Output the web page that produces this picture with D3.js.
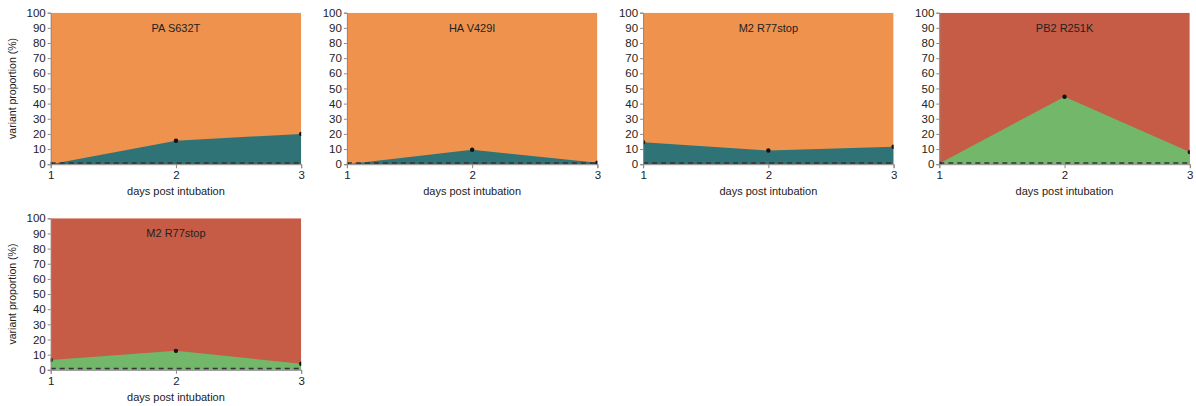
<!DOCTYPE html>
<html>
<head>
<meta charset="utf-8">
<script src="https://cdn.jsdelivr.net/npm/d3@7"></script>
<style>
body { margin: 0; background: #fff; }
text { font-family: "Liberation Sans", Arial, sans-serif; }
</style>
</head>
<body>
<div class="container"></div>
<script>
// one array per panel: variant proportion (%) at day 1, 2, 3
var days = [1, 2, 3];
var titles = ['PA S632T', 'HA V429I', 'M2 R77stop', 'PB2 R251K', 'M2 R77stop'];
var paS632T = [0, 15.5, 20];
var haV429I = [0, 9.5, 1];
var m2R77stopA = [14.5, 9, 11.5];
var pb2R251K = [0.5, 44.5, 8];
var m2R77stopB = [6.5, 12.5, 4];
var yTicks = [0, 10, 20, 30, 40, 50, 60, 70, 80, 90, 100];
var threshold = 0.8;

const WIDTH = 1196;
const HEIGHT = 406;
const PLOT_W = 250.5;
const PLOT_H = 151.5;

var panels = [
	{ values: paS632T,    low: '#2f7377', high: '#ef924d' },
	{ values: haV429I,    low: '#2f7377', high: '#ef924d' },
	{ values: m2R77stopA, low: '#2f7377', high: '#ef924d' },
	{ values: pb2R251K,   low: '#72b76a', high: '#c65c45' },
	{ values: m2R77stopB, low: '#72b76a', high: '#c65c45' }
];

var svg = d3.select('.container').append('svg')
	.attr('width', WIDTH)
	.attr('height', HEIGHT);

var xScale = d3.scaleLinear().domain([1, 3]).range([0, PLOT_W]);
var yScale = d3.scaleLinear().domain([0, 100]).range([PLOT_H, 0]);

var drawPanel = function(p, i) {
	var col = i % 4;
	var row = Math.floor(i / 4);
	var left = 50.7 + col * 296.2;
	var top = 12.7 + row * 205.6;

	var g = svg.append('g')
		.attr('transform', 'translate(' + left + ',' + top + ')');

	g.append('clipPath').attr('id', 'clip' + i)
		.append('rect').attr('width', PLOT_W).attr('height', PLOT_H);

	var plot = g.append('g').attr('clip-path', 'url(#clip' + i + ')');

	var data = days.map(function(d, k) { return { day: d, v: p.values[k] }; });

	// the remaining share fills the whole plot, the variant area is laid over it
	var upper = d3.area()
		.x(function(d) { return xScale(d.day); })
		.y0(yScale(0))
		.y1(yScale(100));
	var lower = d3.area()
		.x(function(d) { return xScale(d.day); })
		.y0(yScale(0))
		.y1(function(d) { return yScale(d.v); });

	plot.append('path').datum(data).attr('d', upper).attr('fill', p.high);
	plot.append('path').datum(data).attr('d', lower).attr('fill', p.low);

	plot.append('line')
		.attr('x1', xScale(1)).attr('x2', xScale(3))
		.attr('y1', yScale(threshold)).attr('y2', yScale(threshold))
		.attr('stroke', '#333')
		.attr('stroke-width', 1.6)
		.attr('stroke-dasharray', '5,4');

	plot.selectAll('circle').data(data).enter().append('circle')
		.attr('cx', function(d) { return xScale(d.day); })
		.attr('cy', function(d) { return yScale(d.v); })
		.attr('r', 2.2)
		.attr('fill', '#111');

	var yAxis = d3.axisLeft(yScale).tickValues(yTicks).tickSize(3).tickPadding(2);
	var ya = g.append('g').call(yAxis);
	var xAxis = d3.axisBottom(xScale).tickValues(days).tickFormat(d3.format('d')).tickSize(4).tickPadding(3);
	var xa = g.append('g').attr('transform', 'translate(0,' + PLOT_H + ')').call(xAxis);

	[ya, xa].forEach(function(a) {
		a.select('.domain').attr('stroke', '#8a8a8a').attr('stroke-width', 1);
		a.selectAll('.tick line').attr('stroke', '#8a8a8a');
		a.selectAll('.tick text').attr('fill', '#222').style('font-size', '11.5px')
			.style('font-family', '"Liberation Sans", Arial, sans-serif');
	});

	g.append('text')
		.attr('x', PLOT_W / 2).attr('y', PLOT_H + 31)
		.attr('text-anchor', 'middle')
		.attr('fill', '#222')
		.style('font-size', '11px')
		.text('days post intubation');

	g.append('text')
		.attr('x', PLOT_W / 2).attr('y', 19)
		.attr('text-anchor', 'middle')
		.attr('fill', '#222')
		.style('font-size', '11px')
		.text(titles[i]);

	if (col === 0) {
		g.append('text')
			.attr('transform', 'translate(' + (-35) + ',' + (PLOT_H / 2) + ') rotate(-90)')
			.attr('text-anchor', 'middle')
			.attr('fill', '#222')
			.style('font-size', '10.5px')
			.text('variant proportion (%)');
	}
};

panels.forEach(drawPanel);
</script>
</body>
</html>
